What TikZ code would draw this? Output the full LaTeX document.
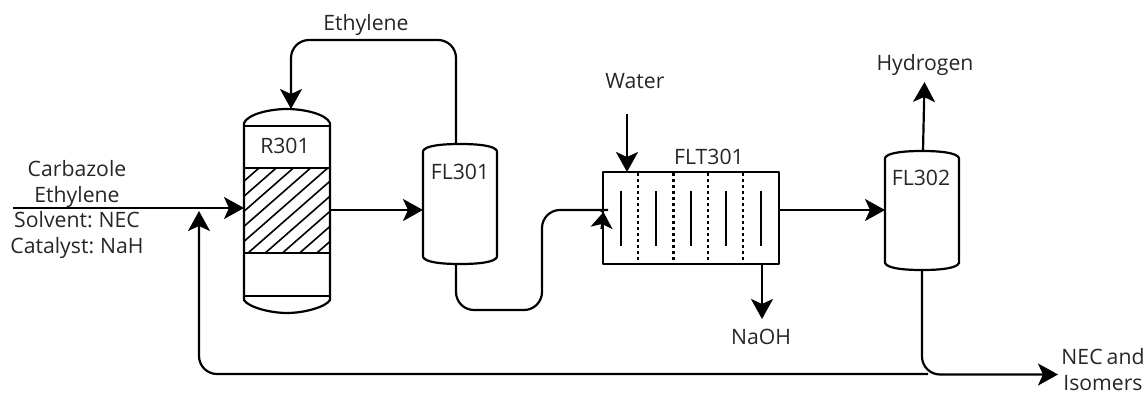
\documentclass[tikz,border=0pt]{standalone}
\usepackage{fontspec}
\setmainfont[WordSpace=0.75]{Open Sans}
\usetikzlibrary{arrows.meta,calc}
\tikzset{
  x=1pt,y=-1pt,
  roundpipe/.style={rounded corners=18pt},
  pipe/.style={line width=2.2pt,color=black},
  flow/.style={pipe,-{Stealth[length=20pt,width=22pt,inset=5pt]}},
  shorttip/.style={line width=2.2pt,color=black,-{Stealth[length=16pt,width=22pt,inset=4pt]}},
  shell/.style={line width=2.2pt,color=black,line join=round},
  hatchline/.style={line width=1.6pt,color=black},
  dotline/.style={line width=2.6pt,color=black,dash pattern=on 3pt off 3pt},
  body/.style={inner sep=0pt,outer sep=0pt,draw=none,rectangle},
  lab/.style={inner sep=0pt,outer sep=0pt,align=center,text=black!85,font=\fontsize{21.2}{25.5}\selectfont},
}
\newcommand{\vessel}[4]{% x0 x1 ytop ybottom
  \draw[shell] (#1,#3+7) .. controls (#1+2,#3+2) and ({(#1+#2)/2-20},#3) .. ({(#1+#2)/2},#3)
     .. controls ({(#1+#2)/2+20},#3) and (#2-2,#3+2) .. (#2,#3+7)
     -- (#2,#4-7) .. controls (#2-2,#4-2) and ({(#1+#2)/2+20},#4) .. ({(#1+#2)/2},#4)
     .. controls ({(#1+#2)/2-20},#4) and (#1+2,#4-2) .. (#1,#4-7) -- cycle;
}
\begin{document}
\begin{tikzpicture}
\useasboundingbox (0,0) rectangle (1148,394);
% named equipment bodies
\node[body,minimum width=86pt,minimum height=204pt] (r301) at (287,211) {};
\node[body,minimum width=74pt,minimum height=120pt] (fl301) at (460,204) {};
\node[body,minimum width=176pt,minimum height=92pt] (flt301) at (691,218) {};
\node[body,minimum width=74pt,minimum height=119pt] (fl302) at (922,210.5) {};
% R301
\begin{scope}
\clip (244,168) rectangle (330,253);
\foreach \k in {0,...,9} {
  \draw[hatchline] ({259+17.2*\k},168) -- ++(-97,85);
}
\end{scope}
\draw[shell] (244,123) .. controls (248,114) and (270,109) .. (287,109) .. controls (304,109) and (326,114) .. (330,123)
   -- (330,300) .. controls (326,307) and (304,313) .. (287,313) .. controls (270,313) and (248,307) .. (244,300) -- cycle;
\foreach \yy in {126,168,253,296} { \draw[shell] (244,\yy) -- (330,\yy); }
% flash drums
\vessel{423}{497}{144}{264}
\vessel{885}{959}{151}{270}
% FLT301
\draw[shell] (603,172) rectangle (779,264);
\foreach \xx in {638,673.5,708,743} { \draw[dotline] (\xx,173) -- (\xx,263); }
\foreach \xx in {621,656,691,726,761} { \draw[shell] (\xx,191) -- (\xx,246); }
% free ends
\coordinate (feedstart) at (13,208);
\coordinate (hydrogenend) at (924.5,82);
\coordinate (waterstart) at (627,114);
\coordinate (nepEnd) at (1058,374.5);
\coordinate (naohend) at (762,319);
\coordinate (recyclestart) at (928,374);
\coordinate (recycleend) at (199,211);
\coordinate (filtertip) at (603.5,212);
% connectors
\draw[flow] (feedstart) -- (feedstart -| r301.west);
\draw[flow] {[roundpipe] (recyclestart) -- (recycleend |- recyclestart) -- (recycleend)};
\draw[flow] {[roundpipe] ([xshift=-4pt]fl301.north) -- ++(0,-104) -- ++(-165,0) -- ([xshift=4pt]r301.north)};
\draw[flow] (r301.east |- 0,210) -- (fl301.west |- 0,210);
\draw[pipe,roundpipe] ([xshift=-4pt]fl301.south) -- ++(0,46) -- ++(86,0) -- ++(0,-100) -- (590,210) .. controls (597,210) and (601,210) .. (filtertip);
\draw[shorttip] ($(filtertip)+(-2,17)$) -- (filtertip);
\draw[flow] (waterstart) -- (waterstart |- flt301.north);
\draw[flow] (naohend |- flt301.south) -- (naohend);
\draw[flow] (flt301.east |- 0,210) -- (fl302.west |- 0,210);
\draw[flow] ([xshift=1pt]fl302.north) -- (hydrogenend);
\draw[flow] {[roundpipe] (fl302.south) -- (fl302.south |- nepEnd) -- (nepEnd)};
% labels
\node[lab] (feedlabel) at (77,209.5) {Carbazole\\Ethylene\\Solvent: NEC\\Catalyst: NaH};
\node[lab] (ethylenelabel) at (366,25) {Ethylene};
\node[lab] (r301label) at (285,146) {R301};
\node[lab] (fl301label) at (460,172) {FL301};
\node[lab] (waterlabel) at (635,81) {Water};
\node[lab] (flt301label) at (709,157) {FLT301};
\node[lab] (naohlabel) at (761,337) {NaOH};
\node[lab] (hydrogenlabel) at (925,65) {Hydrogen};
\node[lab] (fl302label) at (921,178) {FL302};
\node[lab] (neclabel) at (1103,369.5) {NEC and\\Isomers};
\end{tikzpicture}
\end{document}
